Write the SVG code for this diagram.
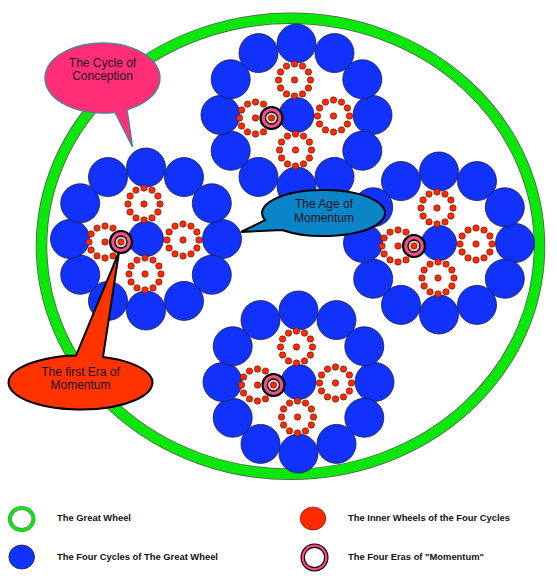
<svg xmlns="http://www.w3.org/2000/svg" xmlns:xlink="http://www.w3.org/1999/xlink" width="557" height="579" viewBox="0 0 557 579">
<style>
.bc{fill:#1032fa;stroke:#1a1a40;stroke-width:0.8}
.rd{fill:#ff2a00;stroke:#5a1000;stroke-width:0.6}
.ct{font-family:"Liberation Sans",Arial,sans-serif;font-size:12px;fill:#1a1024;text-anchor:middle}
.lg{font-family:"Liberation Sans",Arial,sans-serif;font-size:9.4px;font-weight:bold;fill:#111}
</style>
<defs>
<circle id="b" class="bc" r="19.5"/>
<g id="ring">
<use href="#b" x="76" y="0"/><use href="#b" x="65.8" y="35.75"/><use href="#b" x="38" y="61.9"/>
<use href="#b" x="0" y="71.5"/><use href="#b" x="-38" y="61.9"/><use href="#b" x="-65.8" y="35.75"/>
<use href="#b" x="-76" y="0"/><use href="#b" x="-65.8" y="-35.75"/><use href="#b" x="-38" y="-61.9"/>
<use href="#b" x="0" y="-71.5"/><use href="#b" x="38" y="-61.9"/><use href="#b" x="65.8" y="-35.75"/>
<circle class="bc" r="17.5" cx="0" cy="0"/>
</g>
<g id="w">
<circle class="rd" r="3.2" cx="0" cy="0"/>
<circle class="rd" r="3.2" cx="16" cy="0"/><circle class="rd" r="3.2" cx="13.9" cy="8"/><circle class="rd" r="3.2" cx="8" cy="13.9"/>
<circle class="rd" r="3.2" cx="0" cy="16"/><circle class="rd" r="3.2" cx="-8" cy="13.9"/><circle class="rd" r="3.2" cx="-13.9" cy="8"/>
<circle class="rd" r="3.2" cx="-16" cy="0"/><circle class="rd" r="3.2" cx="-13.9" cy="-8"/><circle class="rd" r="3.2" cx="-8" cy="-13.9"/>
<circle class="rd" r="3.2" cx="0" cy="-16"/><circle class="rd" r="3.2" cx="8" cy="-13.9"/><circle class="rd" r="3.2" cx="13.9" cy="-8"/>
</g>
<g id="m">
<circle r="11" fill="#f2508a" stroke="#000" stroke-width="2.2"/>
<circle r="6" fill="#fff" stroke="#000" stroke-width="1.3"/>
<circle r="4.5" fill="none" stroke="#999" stroke-width="0.6"/>
<circle class="rd" r="3.2"/>
</g>
<g id="cluster">
<use href="#ring"/>
<use href="#w" x="-2" y="-35"/>
<use href="#w" x="-41" y="3"/>
<use href="#w" x="37" y="1"/>
<use href="#w" x="-1" y="35"/>
<use href="#m" x="-25" y="3"/>
</g>
</defs>

<g id="great-wheel">
<ellipse cx="290.5" cy="246.3" rx="249" ry="228" fill="none" stroke="#555" stroke-width="11.5"/>
<ellipse cx="290.5" cy="246.3" rx="249" ry="228" fill="none" stroke="#0be60b" stroke-width="10"/>
</g>

<g id="cycle-top"><use href="#cluster" x="296.5" y="115"/></g>
<g id="cycle-left"><use href="#cluster" x="146" y="239"/></g>
<g id="cycle-right"><use href="#cluster" x="439" y="243"/></g>
<g id="cycle-bottom"><use href="#cluster" x="298.5" y="382"/></g>

<g id="connectors"></g>

<g id="callout-conception">
<path d="M115,112.2 L132.5,147 L127,109.7 A57.5,35 0 1 0 115,112.2 Z" fill="#ff2e77" stroke="#5a7a9a" stroke-width="1.5"/>
<text class="ct" x="102.5" y="67">The Cycle of</text>
<text class="ct" x="102.5" y="80">Conception</text>
</g>

<g id="callout-age">
<path d="M265,220.1 L241,232 L282,230 A61.5,23 0 1 0 265,220.1 Z" fill="#0a86c8" stroke="#000" stroke-width="2"/>
<text class="ct" x="324" y="208">The Age of</text>
<text class="ct" x="324" y="221.5">Momentum</text>
</g>

<g id="callout-era">
<path d="M76,355.6 L119,252 L103,356.9 A72,27 0 1 1 76,355.6 Z" fill="#ff3300" stroke="#000" stroke-width="2"/>
<text class="ct" x="80.5" y="376">The first Era of</text>
<text class="ct" x="80.5" y="389">Momentum</text>
</g>

<g id="legend">
<ellipse cx="21.7" cy="519" rx="11.8" ry="11" fill="#fff" stroke="#6a7a8a" stroke-width="4"/>
<ellipse cx="21.7" cy="519" rx="11.8" ry="11" fill="none" stroke="#0be60b" stroke-width="3"/>
<text class="lg" x="57" y="521">The Great Wheel</text>
<ellipse cx="21.7" cy="557" rx="12.8" ry="12" class="bc"/>
<text class="lg" x="57" y="559.5">The Four Cycles of The Great Wheel</text>
<ellipse cx="313" cy="518.5" rx="12.8" ry="11.5" class="rd"/>
<text class="lg" x="348" y="521">The Inner Wheels of the Four Cycles</text>
<circle cx="314.5" cy="557.5" r="11.8" fill="#fff" stroke="#000" stroke-width="4.4"/>
<circle cx="314.5" cy="557.5" r="11.8" fill="none" stroke="#ff4a86" stroke-width="2.2"/>
<text class="lg" x="348" y="559.5">The Four Eras of "Momentum"</text>
</g>
</svg>
